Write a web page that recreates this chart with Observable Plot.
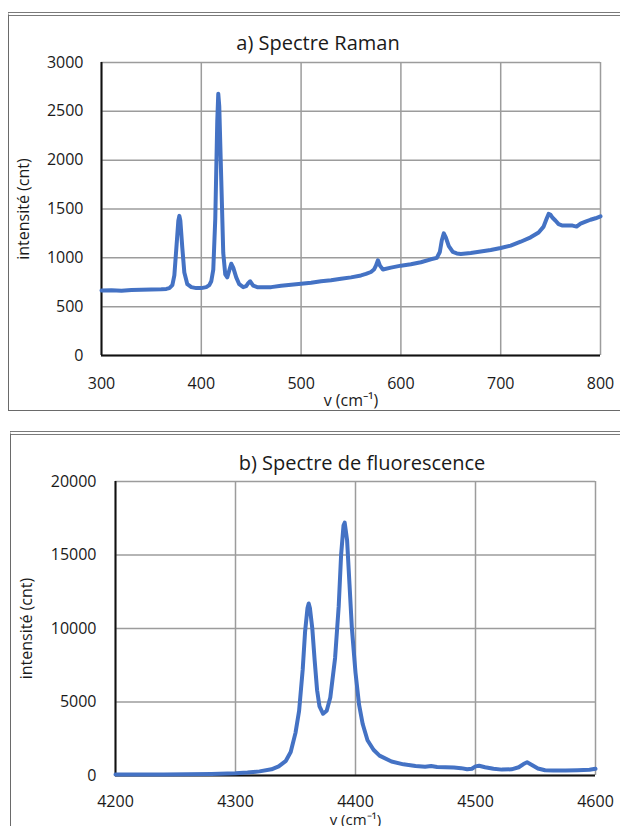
<!DOCTYPE html>
<html>
<head>
<meta charset="utf-8">
<script src="https://cdn.jsdelivr.net/npm/d3@7"></script>
<script src="https://cdn.jsdelivr.net/npm/@observablehq/plot@0.6"></script>
<style>
  html, body { margin: 0; padding: 0; background: #fff; overflow: hidden; width: 620px; height: 826px; }
  .panel { position: absolute; box-sizing: content-box; border-top: 4px double #7a7a7a; border-left: 1.5px solid #6a6a6a; }
  .chart { position: absolute; left: 0; }
  .title { position: absolute; font-family: 'Open Sans', sans-serif; font-size: 20px; line-height: 20px; color: #1a1a1a; white-space: nowrap; transform: translateX(-50%); }
</style>
</head>
<body>
<div class="panel" style="left:8px; top:12px; width:700px; height:394px; border-bottom:1.5px solid #6a6a6a;"></div>
<div class="panel" style="left:10px; top:431px; width:700px; height:500px;"></div>
<div class="title" style="left:318px; top:33px;">a) Spectre Raman</div>
<div class="title" style="left:362px; top:453px;">b) Spectre de fluorescence</div>
<div class="chart" id="c1" style="top:20px;"></div>
<div class="chart" id="c2" style="top:440px;"></div>
<script>
// ---- Data: a) Raman spectrum ----
const ramanX = [
  300,310,320,330,340,350,360,365,368,371,
  373,375,377,378,379,381,383,386,390,395,
  400,405,408,410,412,414,416,417,418,420,
  422,424,426,428,430,432,435,438,442,445,
  447,449,452,456,460,470,480,490,500,510,
  520,530,540,550,560,565,570,573,575,577,
  579,582,590,600,610,620,630,636,639,641,
  643,645,648,652,656,660,670,680,690,700,
  710,720,730,738,743,746,748,750,752,755,
  758,762,767,772,776,780,785,790,795,800
];
const ramanY = [
  665,668,663,670,672,675,678,682,690,720,
  820,1100,1380,1430,1380,1100,850,730,700,690,
  690,700,720,760,880,1400,2400,2680,2550,1800,
  1050,830,800,870,940,900,800,730,700,710,
  740,760,715,700,700,700,715,725,735,745,
  760,770,785,800,820,835,855,880,920,975,
  920,880,900,920,935,955,985,1000,1060,1180,
  1250,1210,1120,1060,1045,1040,1050,1065,1080,1100,
  1125,1165,1210,1260,1320,1400,1450,1440,1410,1380,
  1345,1330,1330,1330,1320,1350,1370,1390,1405,1425
];
// ---- Data: b) fluorescence spectrum ----
const fluoX = [
  4200,4220,4240,4260,4280,4300,4310,4320,4330,4336,
  4342,4346,4350,4353,4356,4358,4360,4361,4362,4364,
  4366,4368,4370,4373,4376,4379,4383,4386,4388,4390,
  4391,4393,4395,4397,4400,4403,4406,4410,4415,4420,
  4430,4440,4450,4458,4463,4468,4475,4482,4488,4493,
  4497,4500,4503,4508,4515,4522,4530,4536,4540,4543,
  4547,4552,4558,4565,4575,4585,4595,4600
];
const fluoY = [
  60,65,70,80,100,150,200,280,420,620,
  1000,1600,2900,4400,7200,9800,11400,11700,11400,10000,
  7800,5800,4700,4200,4400,5300,8000,11500,15000,17000,
  17200,16000,13000,10000,7000,4800,3500,2400,1750,1350,
  950,760,640,600,640,580,560,540,500,420,
  460,620,660,560,460,400,420,560,780,900,
  720,480,360,340,340,360,390,460
];
// ---- Tick values ----
const ramanXTicks = [300, 400, 500, 600, 700, 800];
const ramanYTicks = [0, 500, 1000, 1500, 2000, 2500, 3000];
const fluoXTicks = [4200, 4300, 4400, 4500, 4600];
const fluoYTicks = [0, 5000, 10000, 15000, 20000];
const xLabel = "v (cm\u207B\u00B9)";
const yLabel = "intensité (cnt)";

const raman = ramanX.map((x, i) => ({x, y: ramanY[i]}));
const fluo = fluoX.map((x, i) => ({x, y: fluoY[i]}));

function chart(o) {
  return Plot.plot({
    width: 620,
    height: o.height,
    marginLeft: o.ml, marginRight: o.mr, marginTop: o.mt, marginBottom: o.mb,
    style: {fontFamily: "'Open Sans', sans-serif", fontSize: "16px", color: "#1a1a1a", background: "transparent", overflow: "visible"},
    x: {domain: [o.xTicks[0], o.xTicks[o.xTicks.length - 1]]},
    y: {domain: [o.yTicks[0], o.yTicks[o.yTicks.length - 1]]},
    marks: [
      Plot.gridX(o.xTicks, {stroke: "#9c9c9c", strokeOpacity: 1, strokeWidth: 1.5}),
      Plot.gridY(o.yTicks, {stroke: "#9c9c9c", strokeOpacity: 1, strokeWidth: 1.5}),
      Plot.axisX(o.xTicks, {tickSize: 0, tickPadding: o.xPad, tickFormat: d => String(d), label: null, fontSize: 16}),
      Plot.axisX({label: xLabel, labelAnchor: "center", labelOffset: o.xLabOff, labelArrow: "none", ticks: [], tickSize: 0, fontSize: o.xLabSize}),
      Plot.axisY(o.yTicks, {tickSize: 0, tickPadding: o.yPad, tickFormat: d => String(d), label: yLabel, labelAnchor: "center", labelOffset: o.yLabOff, labelArrow: "none", fontSize: 16}),
      Plot.ruleX([o.xTicks[0]], {stroke: "#111", strokeWidth: 2}),
      Plot.ruleY([0], {stroke: "#111", strokeWidth: 2}),
      Plot.line(o.data, {x: "x", y: "y", stroke: "#4472C4", strokeWidth: 4, strokeLinejoin: "round", strokeLinecap: "round"})
    ]
  });
}

document.getElementById("c1").append(chart({
  data: raman, xTicks: ramanXTicks, yTicks: ramanYTicks,
  height: 396, ml: 101, mr: 20, mt: 42, mb: 61,
  xPad: 22, yPad: 18, xLabOff: 50, xLabSize: 16, yLabOff: 84
}));
document.getElementById("c2").append(chart({
  data: fluo, xTicks: fluoXTicks, yTicks: fluoYTicks,
  height: 386, ml: 115, mr: 25, mt: 41, mb: 51,
  xPad: 20, yPad: 19, xLabOff: 49, xLabSize: 15, yLabOff: 95
}));
</script>
</body>
</html>
